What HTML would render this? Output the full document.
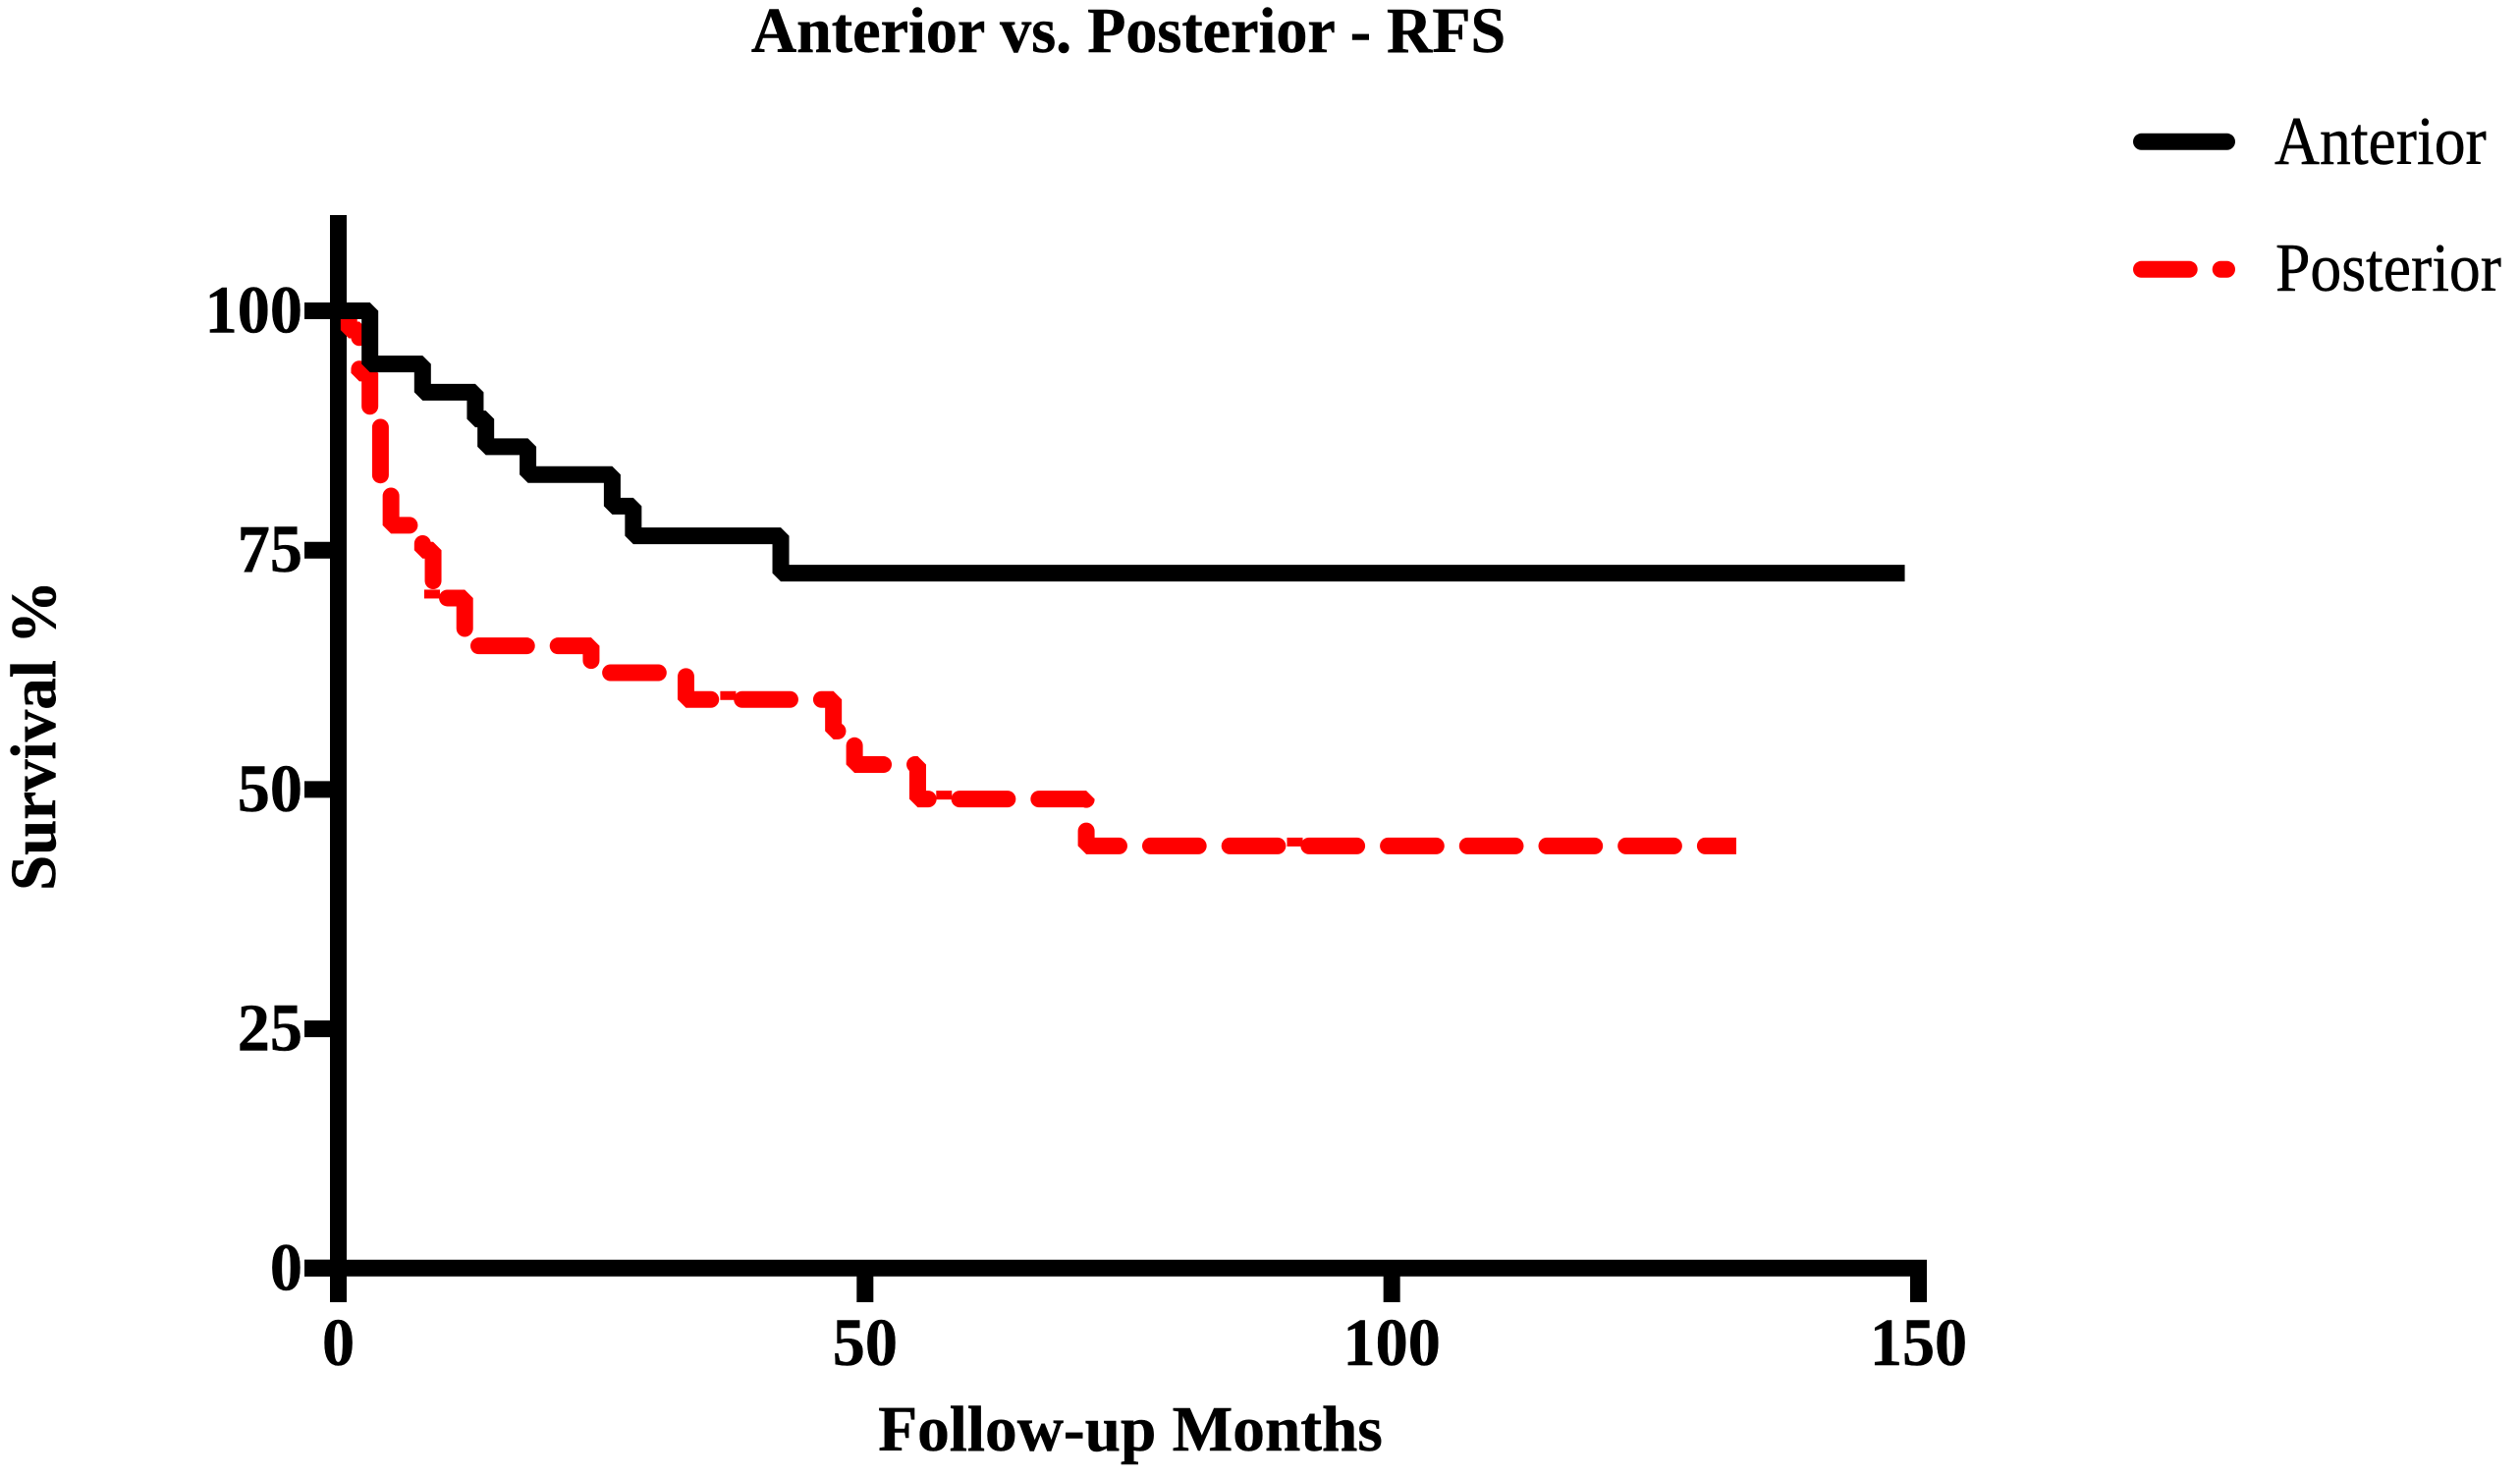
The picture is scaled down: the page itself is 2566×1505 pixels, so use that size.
<!DOCTYPE html>
<html lang="en">
<head>
<meta charset="utf-8">
<title>Anterior vs. Posterior - RFS</title>
<style>
html,body{margin:0;padding:0;background:#fff;width:2566px;height:1505px;overflow:hidden}
svg{display:block}
text{font-family:"Liberation Serif",serif;font-size:70px;fill:#000;stroke:#000;stroke-width:.5px}
.b{font-weight:bold}
.h{font-size:66px}
.t{font-size:69px}
</style>
</head>
<body>
<svg id="chart" width="2566" height="1505" viewBox="0 0 2566 1505" xmlns="http://www.w3.org/2000/svg">
<rect width="2566" height="1505" fill="#fff"/>
<defs><clipPath id="redClip"><rect id="redClipRect" x="0" y="0" width="2566" height="1505"/></clipPath></defs>
<text class="b h" text-anchor="middle" transform="translate(1149,53) scale(.971,1)">Anterior vs. Posterior - RFS</text>
<text class="b h" text-anchor="middle" transform="translate(1151,1477) scale(.99,1)">Follow-up Months</text>
<text class="b h" text-anchor="middle" transform="translate(56,749) rotate(-90) scale(.985,1)">Survival %</text>
<g id="axes"></g>
<g id="series"></g>
<g>
<line x1="2180.5" y1="144.3" x2="2267.5" y2="144.3" stroke="#000" stroke-width="17" stroke-linecap="round"/>
<text transform="translate(2316,167) scale(.91,1)">Anterior</text>
<path d="M2180.5 274.3H2267.5" fill="none" stroke="#f00" stroke-width="17" stroke-linecap="round" stroke-dasharray="48.7 32"/>
<text transform="translate(2317,296) scale(.91,1)">Posterior</text>
</g>
</svg>
<script>
const xTicks = [0, 50, 100, 150];
const yTicks = [0, 25, 50, 75, 100];
const anteriorMonths = [0, 3, 8, 13, 14, 18, 26, 28, 42, 148.7];
const anteriorSurvival = [100, 94.45, 91.5, 88.7, 85.8, 82.9, 79.6, 76.5, 72.6, 72.6];
const posteriorMonths = [0, 1, 2, 3, 4, 5, 8, 9, 12, 24, 33, 47, 49, 55, 71, 132.7];
const posteriorSurvival = [100, 98, 93.5, 89, 82, 77.6, 75, 70, 65, 62.2, 59.4, 56.1, 52.6, 49, 44.1, 44.1];
const censorMonths = [8.9, 37, 57.5, 90.8];
const censorSurvival = [70, 59.4, 49, 44.1];

const NS = 'http://www.w3.org/2000/svg';
const xPerMonth = (1953.5 - 344.5) / 150;
const yPerPercent = (1291.3 - 316.5) / 100;
function xAxis(m) { return 344.5 + m * xPerMonth; }
function yAxis(v) { return 1291.3 - v * yPerPercent; }

function stepPath(months, values) {
  let d = 'M' + xAxis(months[0]) + ' ' + yAxis(values[0]);
  for (let i = 1; i < months.length; i++) {
    d += 'H' + xAxis(months[i]);
    d += 'V' + yAxis(values[i]);
  }
  return d;
}

const axes = document.getElementById('axes');
const series = document.getElementById('series');

function strokeLine(parent, x1, y1, x2, y2) {
  const l = document.createElementNS(NS, 'line');
  l.setAttribute('x1', x1);
  l.setAttribute('y1', y1);
  l.setAttribute('x2', x2);
  l.setAttribute('y2', y2);
  l.setAttribute('stroke', '#000');
  l.setAttribute('stroke-width', '17');
  parent.appendChild(l);
  return l;
}

const yLine = strokeLine(axes, xAxis(0), yAxis(110), xAxis(0), 1326);


const xLine = strokeLine(axes, 310, yAxis(0), xAxis(150) + 8.5, yAxis(0));



xTicks.forEach(function (t) {
  const tick = strokeLine(axes, xAxis(t), yAxis(0), xAxis(t), 1326);
  
  
  const label = document.createElementNS(NS, 'text');
  label.setAttribute('class', 'b t');
  label.setAttribute('text-anchor', 'middle');
  label.setAttribute('transform', 'translate(' + xAxis(t) + ',1390) scale(.96,1)');
  label.textContent = t;
  
  
  axes.appendChild(label);
});

yTicks.forEach(function (t) {
  const tick = strokeLine(axes, 310, yAxis(t), xAxis(0), yAxis(t));
  
  
  const label = document.createElementNS(NS, 'text');
  label.setAttribute('class', 'b t');
  label.setAttribute('text-anchor', 'end');
  label.setAttribute('transform', 'translate(308,' + (yAxis(t) + 22) + ') scale(.96,1)');
  label.textContent = t;
  
  
  axes.appendChild(label);
});

const clipLeft = xAxis(posteriorMonths[1]) - 8.5;
const clipRight = xAxis(posteriorMonths[posteriorMonths.length - 1]);
document.getElementById('redClipRect').setAttribute('x', clipLeft);
document.getElementById('redClipRect').setAttribute('width', clipRight - clipLeft);

const redPath = document.createElementNS(NS, 'path');
redPath.setAttribute('d', stepPath(posteriorMonths, posteriorSurvival));
redPath.setAttribute('fill', 'none');
redPath.setAttribute('stroke', '#f00');
redPath.setAttribute('stroke-width', '17');
redPath.setAttribute('stroke-linejoin', 'bevel');
redPath.setAttribute('stroke-linecap', 'round');
redPath.setAttribute('stroke-dasharray', '48.7 32');
redPath.setAttribute('clip-path', 'url(#redClip)');


series.appendChild(redPath);

censorMonths.forEach(function (m, i) {
  const bit = document.createElementNS(NS, 'rect');
  bit.setAttribute('x', xAxis(m) - 8);
  bit.setAttribute('y', yAxis(censorSurvival[i]) - 8.5);
  bit.setAttribute('width', '16');
  bit.setAttribute('height', '9');
  bit.setAttribute('fill', '#f00');
  
  
  series.appendChild(bit);
});

const blackPath = document.createElementNS(NS, 'path');
blackPath.setAttribute('d', stepPath(anteriorMonths, anteriorSurvival));
blackPath.setAttribute('fill', 'none');
blackPath.setAttribute('stroke', '#000');
blackPath.setAttribute('stroke-width', '17');
blackPath.setAttribute('stroke-linejoin', 'bevel');


series.appendChild(blackPath);
</script>
</body>
</html>
